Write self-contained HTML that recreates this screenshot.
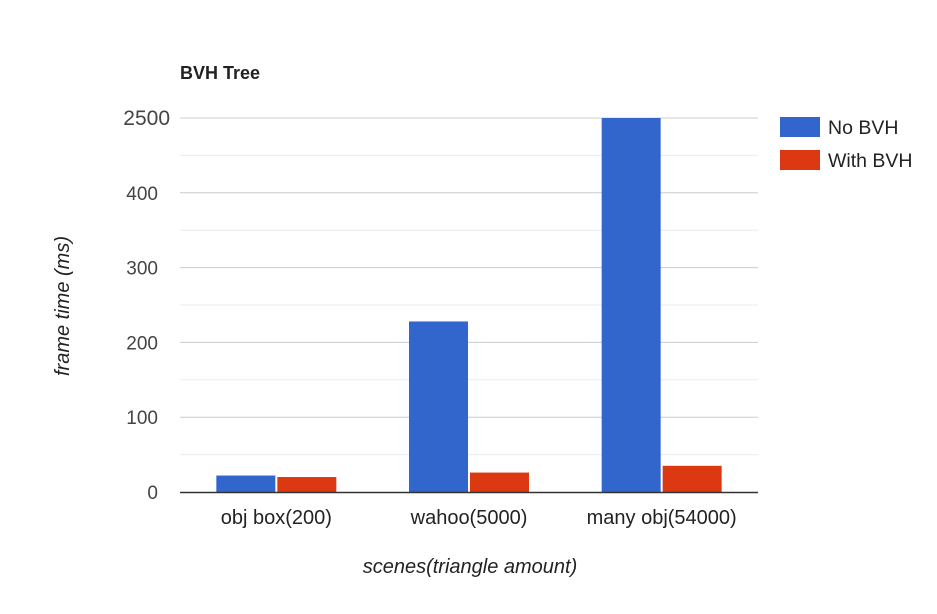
<!DOCTYPE html>
<html><head><meta charset="utf-8">
<style>
body{margin:0;background:#fff;font-family:"Liberation Sans",Arial,sans-serif;}
svg text{font-family:"Liberation Sans",Arial,sans-serif;}
</style></head>
<body>
<svg id="chart" width="937" height="609" viewBox="0 0 937 609">
<rect width="937" height="609" fill="#fff"/>
<text x="180" y="79" font-size="18" font-weight="bold" fill="#222">BVH Tree</text>
<g id="grid"></g>
<g id="bars"></g>
<g id="xlabels"></g>
<text transform="translate(69,306) rotate(-90)" text-anchor="middle" font-size="20" font-style="italic" fill="#222">frame time (ms)</text>
<text x="470" y="573" text-anchor="middle" font-size="20" font-style="italic" fill="#222">scenes(triangle amount)</text>
<g>
<g><rect x="780" y="117" width="40" height="20" fill="#3366cc"/><text x="828" y="134" font-size="19.5" fill="#222">No BVH</text></g>
<g><rect x="780" y="150" width="40" height="20" fill="#dc3912"/><text x="828" y="167" font-size="19.5" fill="#222">With BVH</text></g>
</g>
</svg>
<script>
const categories=["obj box(200)","wahoo(5000)","many obj(54000)"];
const noBVH=[22,228,500];
const withBVH=[20,26,35];
const tickValues=[0,100,200,300,400,500];
const tickLabels=["0","100","200","300","400","2500"];
const NS="http://www.w3.org/2000/svg";
const x0=180,x1=758,yBase=492,yTop=118,yMax=500;
const y=v=>yBase-(v/yMax)*(yBase-yTop);
const gw=(x1-x0)/categories.length;
function mk(tag,attrs,parent){const e=document.createElementNS(NS,tag);for(const k in attrs)e.setAttribute(k,attrs[k]);parent.appendChild(e);return e;}
const grid=document.getElementById('grid');
for(let v=50;v<yMax;v+=100){
  const l=mk('line',{x1:x0,x2:x1,y1:y(v),y2:y(v),stroke:'#ebebeb','stroke-width':1},grid);
  
  
}
tickValues.forEach((v,i)=>{
  if(v>0){const l=mk('line',{x1:x0,x2:x1,y1:y(v),y2:y(v),stroke:'#cccccc','stroke-width':1},grid);
  
  }
  const last=i===tickValues.length-1;
  const t=mk('text',{x:last?170:158,y:y(v)+7,'text-anchor':'end','font-size':last?21:19,fill:'#444'},grid);
  t.textContent=tickLabels[i];
  
  
});
const bars=document.getElementById('bars');
const bw=59;
categories.forEach((c,i)=>{
  const cx=x0+gw*(i+0.5);
  const b1=mk('rect',{x:cx-bw-1,y:y(noBVH[i]),width:bw,height:yBase-y(noBVH[i]),fill:'#3366cc'},bars);
  
  
  const b2=mk('rect',{x:cx+1,y:y(withBVH[i]),width:bw,height:yBase-y(withBVH[i]),fill:'#dc3912'},bars);
  
  
  const t=mk('text',{x:cx,y:524,'text-anchor':'middle','font-size':20,fill:'#222'},document.getElementById('xlabels'));
  t.textContent=c;
  
  
});
const ax=mk('line',{x1:x0,x2:x1,y1:yBase+0.5,y2:yBase+0.5,stroke:'#333','stroke-width':1.5},bars);


</script>
</body></html>
